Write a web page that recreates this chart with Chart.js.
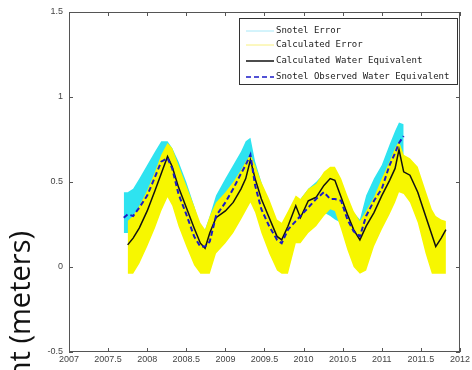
<!DOCTYPE html>
<html><head><meta charset="utf-8">
<script src="https://cdn.jsdelivr.net/npm/chart.js@4"></script>
<style>html,body{margin:0;padding:0;background:#fff}#wrap{width:472px;height:370px;position:relative}</style>
</head><body><div id="wrap"><canvas id="c" width="472" height="370"></canvas></div>
<script>
const years = [2007.70,2007.75,2007.82,2007.90,2008.00,2008.10,2008.18,2008.26,2008.32,2008.40,2008.50,2008.60,2008.68,2008.74,2008.80,2008.88,2009.00,2009.10,2009.20,2009.26,2009.32,2009.38,2009.46,2009.56,2009.66,2009.72,2009.80,2009.90,2009.96,2010.06,2010.16,2010.26,2010.34,2010.40,2010.48,2010.56,2010.64,2010.72,2010.80,2010.90,2011.00,2011.10,2011.17,2011.22,2011.28,2011.36,2011.46,2011.56,2011.64,2011.69,2011.76,2011.82];
const calculated = [null,0.13,0.17,0.23,0.33,0.45,0.55,0.65,0.59,0.47,0.35,0.23,0.14,0.11,0.20,0.29,0.33,0.38,0.46,0.52,0.63,0.52,0.40,0.29,0.18,0.16,0.24,0.36,0.29,0.39,0.41,0.48,0.52,0.51,0.41,0.31,0.22,0.16,0.24,0.32,0.42,0.51,0.58,0.69,0.56,0.54,0.44,0.30,0.19,0.12,0.17,0.22];
const calcLow = [null,-0.04,-0.04,0.02,0.12,0.23,0.33,0.41,0.36,0.24,0.12,0.01,-0.04,-0.04,-0.04,0.08,0.14,0.20,0.28,0.33,0.38,0.32,0.20,0.08,-0.02,-0.04,-0.04,0.14,0.14,0.20,0.24,0.30,0.34,0.33,0.22,0.10,0.00,-0.04,-0.02,0.12,0.22,0.31,0.38,0.44,0.43,0.38,0.26,0.08,-0.04,-0.04,-0.04,-0.04];
const calcHigh = [null,0.27,0.30,0.36,0.45,0.56,0.66,0.73,0.70,0.60,0.48,0.36,0.26,0.22,0.30,0.38,0.44,0.50,0.57,0.62,0.66,0.60,0.50,0.40,0.28,0.26,0.33,0.42,0.40,0.46,0.49,0.56,0.59,0.59,0.52,0.42,0.33,0.27,0.33,0.41,0.52,0.62,0.70,0.74,0.66,0.64,0.59,0.45,0.34,0.30,0.28,0.27];
const snotel = [0.29,0.31,0.30,0.35,0.42,0.53,0.62,0.64,0.58,0.43,0.31,0.18,0.12,0.12,0.15,0.30,0.38,0.46,0.55,0.60,0.66,0.48,0.34,0.24,0.16,0.14,0.22,0.27,0.30,0.35,0.40,0.44,0.40,0.40,0.39,0.28,0.21,0.18,0.30,0.39,0.46,0.60,0.67,0.73,0.77,null,null,null,null,null,null,null];
const snotelLow = [0.20,0.20,0.20,0.24,0.32,0.42,0.50,0.52,0.46,0.32,0.20,0.08,0.04,0.04,0.06,0.20,0.28,0.36,0.44,0.48,0.54,0.36,0.24,0.14,0.08,0.06,0.12,0.18,0.20,0.24,0.28,0.32,0.30,0.28,0.26,0.18,0.12,0.10,0.18,0.28,0.34,0.48,0.55,0.60,0.64,null,null,null,null,null,null,null];
const snotelHigh = [0.44,0.44,0.46,0.52,0.60,0.68,0.74,0.74,0.70,0.62,0.50,0.36,0.24,0.22,0.30,0.42,0.52,0.60,0.68,0.74,0.76,0.62,0.50,0.36,0.26,0.24,0.32,0.38,0.40,0.46,0.50,0.55,0.55,0.52,0.48,0.40,0.32,0.28,0.42,0.52,0.60,0.72,0.80,0.85,0.84,null,null,null,null,null,null,null];
const xTicks = [2007,2007.5,2008,2008.5,2009,2009.5,2010,2010.5,2011,2011.5,2012];
const yTicks = [-0.5,0,0.5,1,1.5];
const legendLabels = ['Snotel Error','Calculated Error','Calculated Water Equivalent','Snotel Observed Water Equivalent'];
const yTitle = 'Snow Water Equivalent (meters)';

const CYAN = '#2ee3f0', YEL = '#f7f700', BLK = '#111111', BLU = '#1a1ac8';
const pts = arr => years.map((x,i)=>({x, y: arr[i]}));

const boxPlugin = {
  id:'box',
  afterDatasetsDraw(chart){
    const {ctx, chartArea:a, scales:{x,y}} = chart;
    ctx.save();
    ctx.strokeStyle='#555'; ctx.lineWidth=1;
    ctx.strokeRect(a.left+0.5,a.top+0.5,a.right-a.left-1,a.bottom-a.top-1);
    ctx.beginPath();
    xTicks.forEach(v=>{const px=Math.round(x.getPixelForValue(v))+0.5;
      ctx.moveTo(px,a.bottom);ctx.lineTo(px,a.bottom-4);ctx.moveTo(px,a.top);ctx.lineTo(px,a.top+4);});
    yTicks.forEach(v=>{const py=Math.round(y.getPixelForValue(v))+0.5;
      ctx.moveTo(a.left,py);ctx.lineTo(a.left+4,py);ctx.moveTo(a.right,py);ctx.lineTo(a.right-4,py);});
    ctx.stroke();
    // legend
    const lx=239, ly=18, lw=218, lh=66;
    ctx.fillStyle='#fff'; ctx.fillRect(lx,ly,lw,lh);
    ctx.strokeStyle='#333'; ctx.strokeRect(lx+0.5,ly+0.5,lw,lh);
    const rows=[31,45,61,77];
    const styles=[{c:'#a8e8f8',w:1,d:[]},{c:'#f8f080',w:1,d:[]},{c:BLK,w:1.5,d:[]},{c:BLU,w:1.5,d:[5,3]}];
    ctx.font='9px "DejaVu Sans Mono"'; ctx.textBaseline='middle'; ctx.textAlign='left';
    legendLabels.forEach((t,i)=>{
      const s=styles[i];
      ctx.beginPath(); ctx.setLineDash(s.d); ctx.strokeStyle=s.c; ctx.lineWidth=s.w;
      ctx.moveTo(246,rows[i]); ctx.lineTo(274,rows[i]); ctx.stroke(); ctx.setLineDash([]);
      ctx.fillStyle='#222'; ctx.fillText(t,276,rows[i]);
    });
    ctx.restore();
  },
  afterDraw(chart){
    const ctx=chart.ctx; ctx.save();
    ctx.translate(30,231); ctx.rotate(-Math.PI/2);
    ctx.font='29px "Open Sans"'; ctx.fillStyle='#111';
    ctx.textAlign='right'; ctx.textBaseline='alphabetic';
    ctx.fillText(yTitle,0,0); ctx.restore();
  }
};

new Chart(document.getElementById('c'),{
  type:'line',
  data:{datasets:[
    {label:legendLabels[0]+' hi',data:pts(snotelHigh),borderWidth:0,pointRadius:0,fill:1,backgroundColor:CYAN,borderColor:CYAN,order:3},
    {label:legendLabels[0]+' lo',data:pts(snotelLow),borderWidth:0,pointRadius:0,fill:false,borderColor:CYAN,order:3},
    {label:legendLabels[1]+' hi',data:pts(calcHigh),borderWidth:0,pointRadius:0,fill:3,backgroundColor:YEL,borderColor:YEL,order:2},
    {label:legendLabels[1]+' lo',data:pts(calcLow),borderWidth:0,pointRadius:0,fill:false,borderColor:YEL,order:2},
    {label:legendLabels[2],data:pts(calculated),borderColor:BLK,borderWidth:1.5,pointRadius:0,fill:false,order:1},
    {label:legendLabels[3],data:pts(snotel),borderColor:BLU,borderWidth:2,borderDash:[5,3],pointRadius:0,fill:false,order:0}
  ]},
  options:{
    responsive:false, animation:false, events:[],
    layout:{padding:{top:12,right:11,left:0,bottom:0}},
    plugins:{legend:{display:false},tooltip:{enabled:false}},
    scales:{
      x:{type:'linear',min:2007,max:2012,
        afterBuildTicks(s){s.ticks=xTicks.map(v=>({value:v}));},
        afterFit(s){s.height=18;},
        grid:{display:false,drawTicks:false},border:{display:false},
        ticks:{padding:2,maxRotation:0,autoSkip:false,font:{family:'"Liberation Sans"',size:9},color:'#444',callback:v=>String(v)}},
      y:{type:'linear',min:-0.5,max:1.5,
        afterBuildTicks(s){s.ticks=yTicks.map(v=>({value:v}));},
        afterFit(s){s.width=69;},
        grid:{display:false,drawTicks:false},border:{display:false},
        ticks:{padding:6,font:{family:'"Liberation Sans"',size:9},color:'#444',callback:v=>String(v)}}
    }
  },
  plugins:[boxPlugin]
});
</script></body></html>
